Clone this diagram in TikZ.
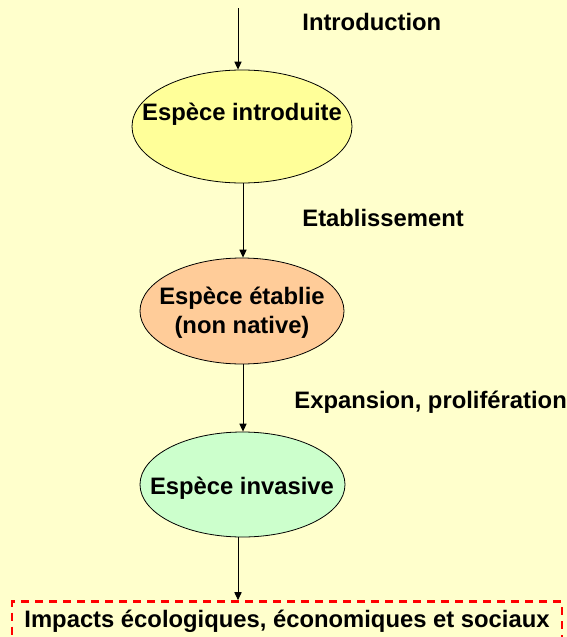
\documentclass[tikz,border=0pt]{standalone}
\usepackage{fontspec}
\setmainfont{Liberation Sans}
\usetikzlibrary{arrows.meta,shapes.geometric}
\definecolor{bgyellow}{HTML}{FFFFCC}
\definecolor{introyellow}{HTML}{FFFF99}
\definecolor{estaborange}{HTML}{FFCC99}
\definecolor{invgreen}{HTML}{CCFFCC}
\begin{document}
\begin{tikzpicture}[x=0.5pt,y=-0.5pt,
  font=\fontsize{11.9}{14.5}\selectfont\bfseries,
  species/.style={draw, ellipse, inner sep=0pt, line width=0.4pt},
  step label/.style={anchor=west, inner sep=0pt},
  flow/.style={draw, line width=0.5pt, -{Triangle[length=4pt,width=3.6pt]}}]
\fill[bgyellow] (0,0) rectangle (567,637);
\useasboundingbox (0,0) rectangle (567,637);

\coordinate (top) at (238,8);
\node[species, fill=introyellow, minimum width=110pt, minimum height=56.5pt] (intro) at (242,126.5) {};
\node[inner sep=0pt] (intro-txt) at (242,114) {Espèce introduite};
\node[species, fill=estaborange, minimum width=102pt, minimum height=53pt] (estab) at (242,311) {};
\node[inner sep=0pt, align=center] (estab-txt) at (242,313) {Espèce établie\\(non native)};
\node[species, fill=invgreen, minimum width=102.5pt, minimum height=52.5pt] (inv) at (242.5,484.5) {};
\node[inner sep=0pt] (inv-txt) at (242,488) {Espèce invasive};
\node[draw=red, line width=1.3pt, dash pattern=on 4pt off 3pt, minimum width=275pt, minimum height=25.5pt] (impacts) at (287,627) {};
\node[inner sep=0pt, anchor=base] (impacts-txt) at (287,627) {Impacts écologiques, économiques et sociaux};

\node[step label] (l-intro) at (302,22) {Introduction};
\node[step label] (l-estab) at (302,218) {Etablissement};
\node[step label] (l-exp) at (294,402) {Expansion, prolifération};

\path[flow] (top) -- (top |- intro.north);
\path[flow] ([xshift=0.5pt]intro.south) -- ([xshift=0.5pt]estab.north);
\path[flow] ([xshift=0.5pt]estab.south) -- ([xshift=0.5pt]inv.north -| estab.south);
\path[flow] (inv.south -| top) -- (impacts.north -| top);
\end{tikzpicture}
\end{document}
